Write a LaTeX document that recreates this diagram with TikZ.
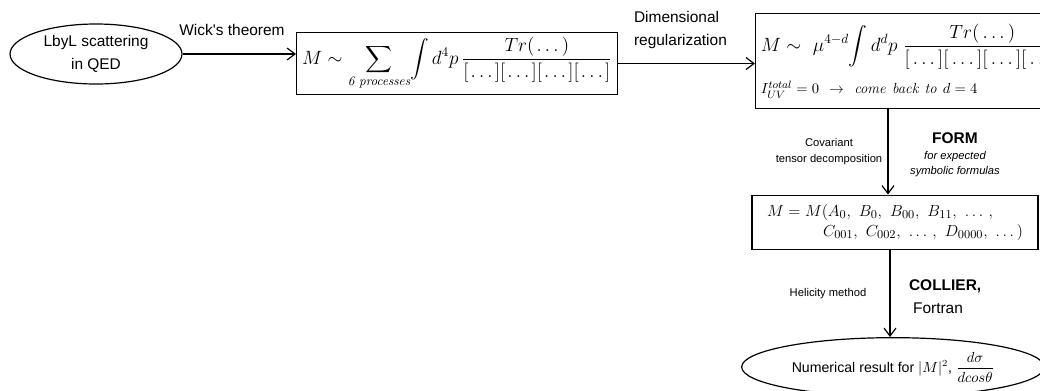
\documentclass[tikz,border=0pt]{standalone}
\usepackage{amsmath,amssymb}
\usepackage{fontspec}
\newfontfamily\labelfont{Liberation Sans}
\usepackage{tikz}
\usetikzlibrary{positioning}
\usetikzlibrary{shapes,calc,arrows.meta}

\begin{document}
\begin{tikzpicture}[x=0.75pt,y=-0.75pt,>={Straight Barb[length=6pt,width=9pt]},
  line width=0.9pt,
  end node/.style={draw,ellipse,inner sep=0pt,align=center,font=\labelfont\fontsize{11.6}{17}\selectfont},
  stage node/.style={draw,rectangle,align=left,inner xsep=4pt,font=\fontsize{14}{17}\selectfont},
  big label/.style={font=\labelfont\fontsize{11.6}{17}\selectfont,align=center},
  small label/.style={font=\labelfont\fontsize{8.4}{12}\selectfont,align=center}]
  \useasboundingbox (0,0) rectangle (1040,390);
  % nodes
  \node (qed) [end node,minimum width=129pt,minimum height=45pt] at (96,54)
    {LbyL scattering\\in QED};
  \node (sum) [stage node,minimum width=240pt,minimum height=44pt] at (457,63.5)
    {$\displaystyle M\sim\sum_{\textit{6 processes}}\!\int d^4p\,
      \frac{Tr(\mkern2mu\dots)}{[\mkern2mu\dots\mkern2mu][\mkern2mu\dots\mkern2mu][\mkern2mu\dots\mkern2mu][\mkern2mu\dots\mkern2mu]}$};
  \node (dimreg) [stage node,anchor=north west,text width=290pt,minimum height=71pt] at (755,13)
    {$\displaystyle M\sim\ \mu^{4-d}\!\int d^dp\;
      \frac{Tr(\,\dots)}{[\,\dots\,][\,\dots\,][\,\dots\,][\,\dots\,]}$\\[8pt]
     {\fontsize{11}{13}\selectfont$I^{total}_{UV}=0\ \to\ \textit{come back to } d=4$}};
  \node (coeffs) [stage node,font=\fontsize{12.5}{15}\selectfont,minimum width=214.5pt,minimum height=41pt] at (895,222.5)
    {$M=M(A_0,\ B_0,\ B_{00},\ B_{11},\ \dots\,,$\\
     \hspace{42pt}$C_{001},\ C_{002},\ \dots\,,\ D_{0000},\ \dots)$};
  \node (result) [end node,minimum width=227pt,minimum height=44pt] at (893,367)
    {\fontsize{10.6}{13}\selectfont Numerical result for $|M|^2$, $\dfrac{d\sigma}{dcos\theta}$};
  % labels
  \node (wick) [big label] at (232,30) {Wick's theorem};
  \node (dimlab) [big label,align=left,anchor=west] at (629,30) {Dimensional\\regularization};
  \node (covlab) [small label] at (829,152) {Covariant\\tensor decomposition};
  \node (formlab) [big label] at (955,138) {\textbf{FORM}};
  \node (formsub) [small label,font=\labelfont\itshape\fontsize{8.4}{11.3}\selectfont] at (955,164.5)
    {for expected\\symbolic formulas};
  \node (helilab) [small label] at (828,294) {Helicity method};
  \node (collab) [big label,align=left,anchor=west] at (904,297) {\textbf{COLLIER,}\\\hspace{3pt}Fortran};
  % connectors
  \coordinate (formx) at (888,0);
  \coordinate (collx) at (890,0);
  \draw[->] (qed.east) -- (qed.east -| sum.west);
  \draw[->] (sum.east) -- (sum.east -| dimreg.west);
  \draw[->] (dimreg.south -| formx) -- (coeffs.north -| formx);
  \draw[->] (coeffs.south -| collx) -- (result.north -| collx);
\end{tikzpicture}
\end{document}
